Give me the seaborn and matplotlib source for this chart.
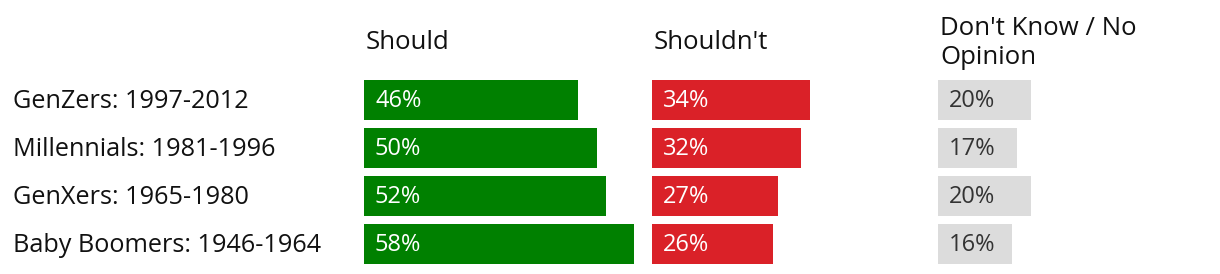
import matplotlib
matplotlib.use("Agg")
import matplotlib.pyplot as plt
import matplotlib.transforms as mtransforms
import seaborn as sns
import pandas as pd

groups = ["GenZers: 1997-2012", "Millennials: 1981-1996", "GenXers: 1965-1980", "Baby Boomers: 1946-1964"]
should = [46, 50, 52, 58]
shouldnt = [34, 32, 27, 26]
dont_know = [20, 17, 20, 16]
headers = ["Should", "Shouldn't", "Don't Know / No\nOpinion"]

sns.set_theme(style="white")
plt.rcParams["font.family"] = ["Open Sans", "DejaVu Sans"]

W, H = 1220, 274
fig = plt.figure(figsize=(W / 100, H / 100), dpi=100)

PX_PER_PCT = 4.65
panel_left = [364, 652, 938]
panel_w = 280
top_px, bottom_px = 76, 268
colors = ["#008000", "#da2128", "#dcdcdc"]
text_colors = ["white", "white", "#333333"]
series = [should, shouldnt, dont_know]

FS_LABEL = 18.2
FS_HEAD = 18.5
FS_VAL = 17

axes = []
for i in range(3):
    ax = fig.add_axes([panel_left[i] / W, (H - bottom_px) / H, panel_w / W, (bottom_px - top_px) / H])
    df = pd.DataFrame({"group": groups, "value": series[i]})
    sns.barplot(data=df, x="value", y="group", orient="h", color=colors[i],
                saturation=1, width=40 / 48, linewidth=0, ax=ax)
    ax.set_xlim(0, panel_w / PX_PER_PCT)
    ax.set_ylim(3.5, -0.5)
    ax.axis("off")
    for j, v in enumerate(series[i]):
        ax.annotate(f"{v}%", xy=(0, j + 0.02), xytext=(11, 0), textcoords="offset pixels",
                    ha="left", va="center", fontsize=FS_VAL, color=text_colors[i])
    ax.text(2 / PX_PER_PCT, -1.19, headers[i], ha="left", va="center", fontsize=FS_HEAD,
            color="#111111", linespacing=1.2, transform=ax.transData, clip_on=False)
    axes.append(ax)

trans = mtransforms.blended_transform_factory(fig.transFigure, axes[0].transData)
for j, g in enumerate(groups):
    axes[0].text(13 / W, j + 0.03, g, ha="left", va="center", fontsize=FS_LABEL, color="#111111",
                 transform=trans, clip_on=False)

fig.savefig("out.png", dpi=100)
